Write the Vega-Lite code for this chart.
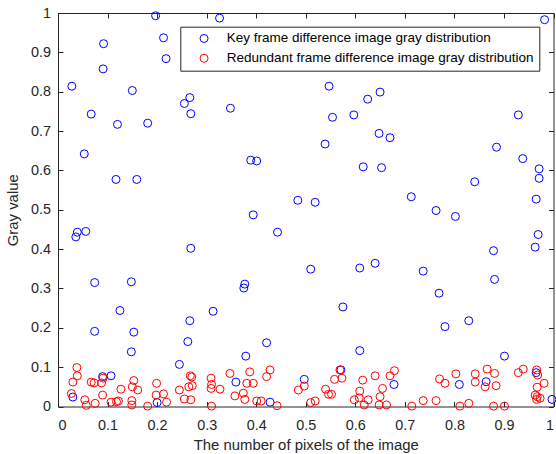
{
"$schema": "https://vega.github.io/schema/vega-lite/v6.json",
"width": 495.5, "height": 393.5,
"autosize": {"type": "none"},
"padding": {"left": 58, "top": 13, "right": 2.5, "bottom": 47.5},
"background": "white",
"config": {
 "view": {"stroke": null},
 "font": "Liberation Sans",
 "axis": {"grid": false, "domainColor": "#262626", "tickColor": "#262626", "labelColor": "#262626", "titleColor": "#262626", "labelFont": "Liberation Sans", "titleFont": "Liberation Sans", "labelFontSize": 14.4, "titleFontSize": 14.9, "titleFontWeight": "normal", "tickSize": -5, "domainWidth": 1, "tickWidth": 1}
},
"data": {"values": [
{"s":"k","x":0.197,"y":0.993},{"s":"k","x":0.326,"y":0.987},{"s":"k","x":0.092,"y":0.922},{"s":"k","x":0.213,"y":0.937},{"s":"k","x":0.218,"y":0.884},{"s":"k","x":0.091,"y":0.858},{"s":"k","x":0.028,"y":0.814},{"s":"k","x":0.150,"y":0.803},{"s":"k","x":0.266,"y":0.785},{"s":"k","x":0.255,"y":0.770},{"s":"k","x":0.268,"y":0.744},{"s":"k","x":0.067,"y":0.743},{"s":"k","x":0.120,"y":0.717},{"s":"k","x":0.181,"y":0.720},{"s":"k","x":0.053,"y":0.642},{"s":"k","x":0.117,"y":0.577},{"s":"k","x":0.159,"y":0.577},{"s":"k","x":0.547,"y":0.814},{"s":"k","x":0.348,"y":0.758},{"s":"k","x":0.625,"y":0.781},{"s":"k","x":0.650,"y":0.799},{"s":"k","x":0.554,"y":0.735},{"s":"k","x":0.597,"y":0.741},{"s":"k","x":0.648,"y":0.694},{"s":"k","x":0.539,"y":0.667},{"s":"k","x":0.389,"y":0.626},{"s":"k","x":0.401,"y":0.624},{"s":"k","x":0.616,"y":0.609},{"s":"k","x":0.653,"y":0.607},{"s":"k","x":0.484,"y":0.524},{"s":"k","x":0.519,"y":0.519},{"s":"k","x":0.982,"y":0.983},{"s":"k","x":0.670,"y":0.683},{"s":"k","x":0.929,"y":0.741},{"s":"k","x":0.885,"y":0.659},{"s":"k","x":0.938,"y":0.630},{"s":"k","x":0.971,"y":0.604},{"s":"k","x":0.971,"y":0.580},{"s":"k","x":0.841,"y":0.571},{"s":"k","x":0.713,"y":0.533},{"s":"k","x":0.965,"y":0.527},{"s":"k","x":0.763,"y":0.498},{"s":"k","x":0.802,"y":0.483},{"s":"k","x":0.969,"y":0.437},{"s":"k","x":0.963,"y":0.405},{"s":"k","x":0.879,"y":0.396},{"s":"k","x":0.737,"y":0.344},{"s":"k","x":0.881,"y":0.323},{"s":"k","x":0.769,"y":0.288},{"s":"k","x":0.829,"y":0.218},{"s":"k","x":0.781,"y":0.203},{"s":"k","x":0.901,"y":0.128},{"s":"k","x":0.039,"y":0.443},{"s":"k","x":0.036,"y":0.431},{"s":"k","x":0.056,"y":0.445},{"s":"k","x":0.268,"y":0.402},{"s":"k","x":0.074,"y":0.315},{"s":"k","x":0.148,"y":0.317},{"s":"k","x":0.125,"y":0.244},{"s":"k","x":0.313,"y":0.242},{"s":"k","x":0.266,"y":0.218},{"s":"k","x":0.074,"y":0.191},{"s":"k","x":0.153,"y":0.189},{"s":"k","x":0.262,"y":0.165},{"s":"k","x":0.148,"y":0.139},{"s":"k","x":0.394,"y":0.487},{"s":"k","x":0.443,"y":0.443},{"s":"k","x":0.510,"y":0.349},{"s":"k","x":0.609,"y":0.352},{"s":"k","x":0.640,"y":0.364},{"s":"k","x":0.377,"y":0.311},{"s":"k","x":0.375,"y":0.301},{"s":"k","x":0.575,"y":0.253},{"s":"k","x":0.421,"y":0.162},{"s":"k","x":0.379,"y":0.128},{"s":"k","x":0.609,"y":0.142},{"s":"k","x":0.245,"y":0.107},{"s":"k","x":0.090,"y":0.076},{"s":"k","x":0.107,"y":0.078},{"s":"k","x":0.030,"y":0.024},{"s":"k","x":0.200,"y":0.010},{"s":"k","x":0.359,"y":0.062},{"s":"k","x":0.497,"y":0.069},{"s":"k","x":0.571,"y":0.093},{"s":"k","x":0.428,"y":0.011},{"s":"k","x":0.678,"y":0.056},{"s":"k","x":0.810,"y":0.056},{"s":"k","x":0.864,"y":0.063},{"s":"k","x":0.965,"y":0.086},{"s":"k","x":0.997,"y":0.018},
{"s":"r","x":0.038,"y":0.099},{"s":"r","x":0.039,"y":0.078},{"s":"r","x":0.030,"y":0.062},{"s":"r","x":0.027,"y":0.033},{"s":"r","x":0.054,"y":0.017},{"s":"r","x":0.057,"y":0.003},{"s":"r","x":0.067,"y":0.062},{"s":"r","x":0.073,"y":0.060},{"s":"r","x":0.075,"y":0.008},{"s":"r","x":0.088,"y":0.060},{"s":"r","x":0.091,"y":0.072},{"s":"r","x":0.090,"y":0.029},{"s":"r","x":0.107,"y":0.011},{"s":"r","x":0.118,"y":0.012},{"s":"r","x":0.122,"y":0.014},{"s":"r","x":0.127,"y":0.044},{"s":"r","x":0.149,"y":0.015},{"s":"r","x":0.149,"y":0.004},{"s":"r","x":0.153,"y":0.066},{"s":"r","x":0.150,"y":0.050},{"s":"r","x":0.161,"y":0.042},{"s":"r","x":0.181,"y":0.001},{"s":"r","x":0.199,"y":0.059},{"s":"r","x":0.198,"y":0.029},{"s":"r","x":0.213,"y":0.032},{"s":"r","x":0.219,"y":0.011},{"s":"r","x":0.245,"y":0.042},{"s":"r","x":0.255,"y":0.019},{"s":"r","x":0.268,"y":0.017},{"s":"r","x":0.264,"y":0.050},{"s":"r","x":0.267,"y":0.078},{"s":"r","x":0.270,"y":0.075},{"s":"r","x":0.271,"y":0.053},{"s":"r","x":0.309,"y":0.072},{"s":"r","x":0.310,"y":0.056},{"s":"r","x":0.309,"y":0.046},{"s":"r","x":0.327,"y":0.044},{"s":"r","x":0.310,"y":0.001},{"s":"r","x":0.347,"y":0.084},{"s":"r","x":0.357,"y":0.027},{"s":"r","x":0.374,"y":0.034},{"s":"r","x":0.377,"y":0.018},{"s":"r","x":0.381,"y":0.059},{"s":"r","x":0.387,"y":0.088},{"s":"r","x":0.394,"y":0.059},{"s":"r","x":0.401,"y":0.014},{"s":"r","x":0.410,"y":0.014},{"s":"r","x":0.421,"y":0.076},{"s":"r","x":0.428,"y":0.093},{"s":"r","x":0.442,"y":0.002},{"s":"r","x":0.485,"y":0.042},{"s":"r","x":0.497,"y":0.052},{"s":"r","x":0.510,"y":0.010},{"s":"r","x":0.519,"y":0.014},{"s":"r","x":0.540,"y":0.044},{"s":"r","x":0.546,"y":0.031},{"s":"r","x":0.552,"y":0.031},{"s":"r","x":0.558,"y":0.069},{"s":"r","x":0.569,"y":0.093},{"s":"r","x":0.573,"y":0.072},{"s":"r","x":0.598,"y":0.017},{"s":"r","x":0.609,"y":0.039},{"s":"r","x":0.608,"y":0.022},{"s":"r","x":0.618,"y":0.004},{"s":"r","x":0.626,"y":0.017},{"s":"r","x":0.615,"y":0.067},{"s":"r","x":0.640,"y":0.078},{"s":"r","x":0.650,"y":0.025},{"s":"r","x":0.648,"y":0.004},{"s":"r","x":0.655,"y":0.046},{"s":"r","x":0.663,"y":0.004},{"s":"r","x":0.670,"y":0.078},{"s":"r","x":0.679,"y":0.091},{"s":"r","x":0.714,"y":0.001},{"s":"r","x":0.737,"y":0.015},{"s":"r","x":0.763,"y":0.015},{"s":"r","x":0.770,"y":0.070},{"s":"r","x":0.781,"y":0.059},{"s":"r","x":0.803,"y":0.083},{"s":"r","x":0.811,"y":0.001},{"s":"r","x":0.829,"y":0.008},{"s":"r","x":0.842,"y":0.083},{"s":"r","x":0.842,"y":0.062},{"s":"r","x":0.862,"y":0.050},{"s":"r","x":0.866,"y":0.095},{"s":"r","x":0.881,"y":0.084},{"s":"r","x":0.884,"y":0.053},{"s":"r","x":0.879,"y":0.001},{"s":"r","x":0.901,"y":0.001},{"s":"r","x":0.929,"y":0.086},{"s":"r","x":0.939,"y":0.095},{"s":"r","x":0.966,"y":0.093},{"s":"r","x":0.968,"y":0.080},{"s":"r","x":0.981,"y":0.059},{"s":"r","x":0.967,"y":0.049},{"s":"r","x":0.963,"y":0.029},{"s":"r","x":0.967,"y":0.025},{"s":"r","x":0.966,"y":0.018},{"s":"r","x":0.973,"y":0.021}
]},
"layer": [
 {"mark": {"type": "point", "shape": "circle", "filled": false, "size": 64, "strokeWidth": 1, "opacity": 1},
  "encoding": {
   "x": {"field": "x", "type": "quantitative", "scale": {"domain": [0, 1], "nice": false, "zero": false},
     "axis": {"orient": "bottom", "values": [0,0.1,0.2,0.3,0.4,0.5,0.6,0.7,0.8,0.9,1], "format": "~g", "title": "The number of pixels of the image", "labelPadding": 16.5, "titlePadding": 6}},
   "y": {"field": "y", "type": "quantitative", "scale": {"domain": [0, 1], "nice": false, "zero": false},
     "axis": {"orient": "left", "values": [0,0.1,0.2,0.3,0.4,0.5,0.6,0.7,0.8,0.9,1], "format": "~g", "title": "Gray value", "labelPadding": 12.5, "titlePadding": 10}},
   "color": {"field": "s", "type": "nominal", "scale": {"domain": ["k", "r"], "range": ["#0000ff", "#ff0000"]},
     "legend": {"orient": "none", "legendX": 122.3, "legendY": 13.7, "title": null, "strokeColor": "#262626", "fillColor": "white", "padding": 5, "symbolOffset": 12, "labelOffset": 16, "labelFontSize": 13.5, "labelFont": "Liberation Sans", "labelColor": "black", "rowPadding": 4.8, "symbolSize": 64, "symbolStrokeWidth": 1, "symbolType": "circle", "labelLimit": 1000,
       "labelExpr": "datum.value == 'k' ? 'Key frame difference image gray distribution' : 'Redundant frame difference image gray distribution'"}}
  }},
 {"mark": {"type": "point", "opacity": 0},
  "encoding": {
   "x": {"field": "x", "type": "quantitative", "axis": {"orient": "top", "values": [0,0.1,0.2,0.3,0.4,0.5,0.6,0.7,0.8,0.9,1], "labels": false, "title": null}},
   "y": {"field": "y", "type": "quantitative", "axis": {"orient": "right", "values": [0,0.1,0.2,0.3,0.4,0.5,0.6,0.7,0.8,0.9,1], "labels": false, "title": null}}
  }}
],
"resolve": {"axis": {"x": "independent", "y": "independent"}}
}
